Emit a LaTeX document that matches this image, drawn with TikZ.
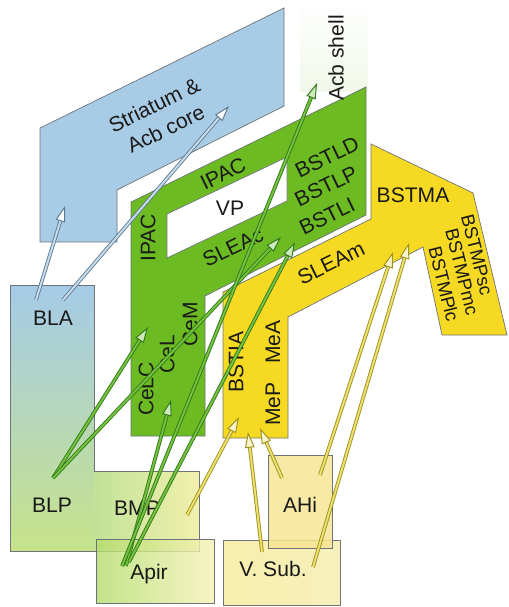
\documentclass[tikz,border=0pt]{standalone}
\usepackage{fontspec}
\setmainfont{Liberation Sans}
\usepackage{tikz}
\usetikzlibrary{arrows.meta,positioning}
\definecolor{striatBlue}{HTML}{A9CCE6}
\definecolor{amyBlue}{HTML}{A6CBE8}
\definecolor{amyCyan}{HTML}{A4DCE6}
\definecolor{amyGreen}{HTML}{C6E38A}
\definecolor{paleYellow}{HTML}{F2F0AE}
\definecolor{ceaGreen}{HTML}{6CBB22}
\definecolor{bstYellow}{HTML}{F6D923}
\definecolor{apirGreen}{HTML}{B4DD6C}
\definecolor{apirPale}{HTML}{F6F2B6}
\definecolor{subPale}{HTML}{F8F0BC}
\definecolor{ahiYellow}{HTML}{F7E594}
\definecolor{shellTint}{HTML}{F1F8EA}
\definecolor{edgeGray}{HTML}{6E7378}
\definecolor{labelInk}{HTML}{1A1A1A}
\definecolor{blueLine}{HTML}{5D7A92}
\definecolor{blueIn}{HTML}{C9DCEB}
\definecolor{greenLine}{HTML}{2F7A18}
\definecolor{greenIn}{HTML}{78C040}
\definecolor{yellowLine}{HTML}{9C9420}
\definecolor{yellowIn}{HTML}{EEE070}

\begin{document}
\begin{tikzpicture}[x=0.02cm,y=-0.02cm,
  every node/.style={font=\fontsize{12}{15}\selectfont,inner sep=1pt,text=labelInk},
  region/.style={draw=edgeGray,line width=0.4pt},
  smalllab/.style={font=\fontsize{10.5}{12}\selectfont},
  arB/.style={draw=blueLine,double=blueIn,line width=0.5pt,double distance=1.1pt,
    -{Triangle[fill=white,line width'=0.55pt,length=9pt,width=5.5pt]}},
  arG/.style={draw=greenLine,double=greenIn,line width=0.5pt,double distance=1.1pt,
    -{Triangle[fill=greenIn!35,line width'=0.55pt,length=9pt,width=5.5pt]}},
  arY/.style={draw=yellowLine,double=yellowIn,line width=0.5pt,double distance=1.1pt,
    -{Triangle[fill=yellowIn!35,line width'=0.55pt,length=9pt,width=5.5pt]}},
]
\useasboundingbox (0,0) rectangle (508,607);

% faint backdrop behind Acb shell
\shade[top color=white,bottom color=shellTint] (300,0) rectangle (368,92);

% Striatum & Acb core (blue)
\filldraw[region,fill=striatBlue] (40,128) -- (284,8) -- (284,106) -- (117,190)
  -- (117,242) -- (40,242) -- cycle;

% central amygdala / BSTL band (green) with VP hole
\filldraw[region,fill=ceaGreen] (131,436) -- (131,202) -- (366,87) -- (366,215)
  -- (205,296) -- (205,436) -- cycle;
\filldraw[region,fill=white] (167,214) -- (287,157) -- (287,201) -- (167,258) -- cycle;

% medial amygdala / BSTM band (yellow)
\filldraw[region,fill=bstYellow] (223,438) -- (223,292) -- (371,219) -- (371,144)
  -- (473,193) -- (507,335) -- (442,335) -- (423,247) -- (288,317) -- (288,438) -- cycle;

% basolateral complex (blue to green)
\shade[top color=amyBlue,middle color=amyCyan,bottom color=amyGreen]
  (10,285) -- (94,285) -- (94,471) -- (199,471) -- (199,551) -- (10,551) -- cycle;
\shade[left color=amyGreen!85!amyCyan,right color=paleYellow] (94,471) rectangle (199,551);
\draw[region] (10,285) -- (94,285) -- (94,471) -- (199,471) -- (199,551) -- (10,551) -- cycle;

% source boxes
\shade[left color=apirGreen,right color=apirPale,fill opacity=0.8] (96,539) rectangle (214,603);
\draw[region] (96,539) rectangle (214,603);
\shade[left color=subPale!90!bstYellow,right color=subPale] (223,540) rectangle (340,605);
\draw[region] (223,540) rectangle (340,605);
\fill[ahiYellow,fill opacity=0.85] (268,455) rectangle (332,548);
\draw[region] (268,455) rectangle (332,548);

% labels
\node[rotate=26,align=center] (STR)  at (160,117) {Striatum \&\\Acb core};
\node[rotate=90]   (ACBSH) at (336,58)  {Acb shell};
\node[rotate=26]   (IPACt) at (223,174) {IPAC};
\node              (VP)    at (230,208) {VP};
\node[rotate=90]   (IPACl) at (148,238) {IPAC};
\node[rotate=26]   (SLEAc) at (233,247) {SLEAc};
\node[rotate=26]   (BSTLD) at (327,157) {BSTLD};
\node[rotate=26]   (BSTLP) at (326,186) {BSTLP};
\node[rotate=26]   (BSTLI) at (327,216) {BSTLI};
\node              (BSTMA) at (413,195) {BSTMA};
\node[smalllab,rotate=-76] (BSTMPsc) at (477,255) {BSTMPsc};
\node[smalllab,rotate=-76] (BSTMPmc) at (462,272) {BSTMPmc};
\node[smalllab,rotate=-76] (BSTMPlc) at (444,284) {BSTMPlc};
\node[rotate=26]   (SLEAm) at (331,263) {SLEAm};
\node[rotate=90]   (CeLC)  at (146,389) {CeLC};
\node[rotate=90]   (CeL)   at (167,354) {CeL};
\node[rotate=90]   (CeM)   at (190,324) {CeM};
\node[rotate=90]   (BSTIA) at (236,362) {BSTIA};
\node[rotate=90]   (MeA)   at (273,342) {MeA};
\node[rotate=90]   (MeP)   at (273,404) {MeP};
\node              (BLA)   at (53,318)  {BLA};
\node              (BLP)   at (52,505)  {BLP};
\node              (BMP)   at (137,508) {BMP};
\node              (Apir)  at (149,574) {Apir};
\node              (VSub)  at (273,569) {V. Sub.};
\node              (AHi)   at (300,505) {AHi};

% arrow ends
\coordinate (blaSrcA)  at (36,300);
\coordinate (blaSrcB)  at (63,300);
\coordinate (blpSrc)   at (53,478);
\coordinate (apirSrcA) at (126,566);
\coordinate (apirSrcB) at (129,562);
\coordinate (apirSrcC) at (122,566);
\coordinate (bmpSrc)   at (187,515);
\coordinate (subSrcA)  at (262,552);
\coordinate (subSrcB)  at (313,567);
\coordinate (ahiSrcA)  at (282,478);
\coordinate (ahiSrcB)  at (320,475);
\coordinate (strTipA)  at (65,206);
\coordinate (strTipB)  at (229,106);
\coordinate (celcTip)  at (148,327);
\coordinate (bstlTipA) at (281,237);
\coordinate (celTip)   at (171,400);
\coordinate (bstlTipB) at (295,242);
\coordinate (shellTip) at (317,83);
\coordinate (bstiaTip) at (239,417);
\coordinate (mepTipA)  at (248,432);
\coordinate (mepTipB)  at (260,428);
\coordinate (bstmTipA) at (393,252);
\coordinate (bstmTipB) at (409,243);

% BLA -> striatum
\draw[arB] (blaSrcA) -- (strTipA);
\draw[arB] (blaSrcB) -- (strTipB);

% BLP and Apir -> CeA, BSTL, Acb shell
\draw[arG] (blpSrc) -- (celcTip);
\draw[arG] (blpSrc) -- (bstlTipA);
\draw[arG] (apirSrcA) -- (celTip);
\draw[arG] (apirSrcB) -- (bstlTipB);
\draw[arG] (apirSrcC) -- (shellTip);

% BMP, AHi and V. Sub. -> MeA, BSTM
\draw[arY] (bmpSrc) -- (bstiaTip);
\draw[arY] (subSrcA) -- (mepTipA);
\draw[arY] (ahiSrcA) -- (mepTipB);
\draw[arY] (ahiSrcB) -- (bstmTipA);
\draw[arY] (subSrcB) -- (bstmTipB);
\end{tikzpicture}
\end{document}
